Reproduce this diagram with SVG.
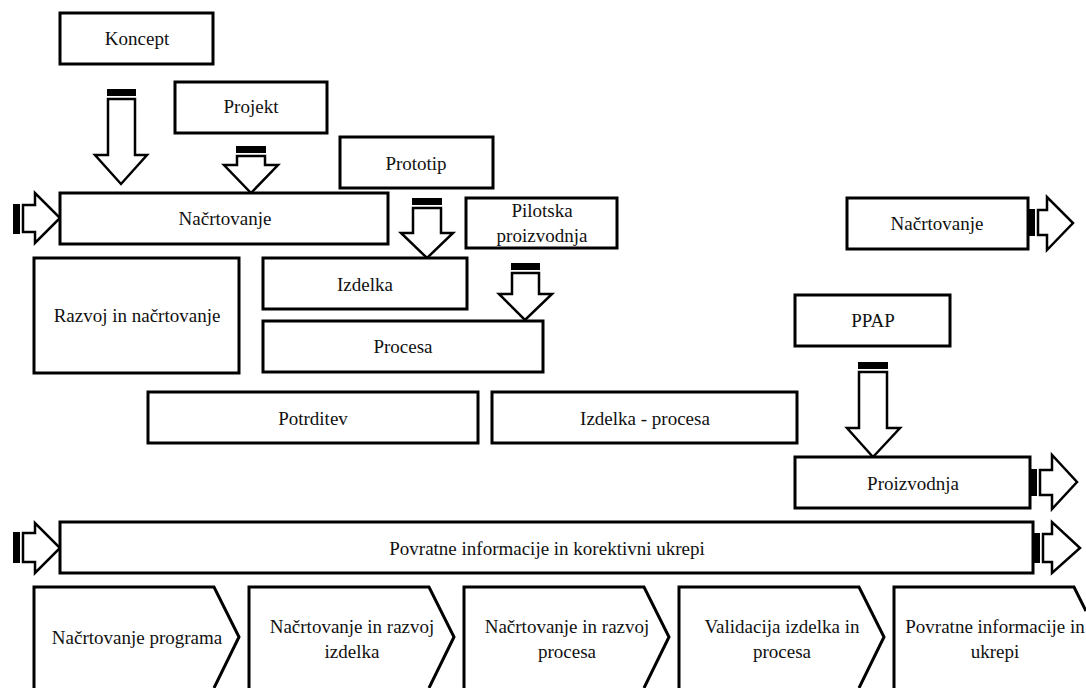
<svg xmlns="http://www.w3.org/2000/svg" width="1086" height="688" viewBox="0 0 1086 688">
  <style>
    .box { fill: #ffffff; stroke: #000000; stroke-width: 3; }
    .arrow { fill: #ffffff; stroke: #000000; stroke-width: 2.5; stroke-linejoin: miter; }
    .tail { fill: #000000; }
    .lbl { font-size: 19px; fill: #111111; text-anchor: middle; }
  </style>

  <rect x="0" y="0" width="1086" height="688" fill="#ffffff"/>

  <!-- block arrows -->
  <g id="connectors">
    <!-- Koncept down -->
    <rect class="tail" x="107" y="89" width="29" height="7"/>
    <polygon class="arrow" points="108,99 135,99 135,155 147,155 121,184 95,155 108,155"/>
    <!-- Projekt down -->
    <rect class="tail" x="236" y="146" width="30" height="7"/>
    <polygon class="arrow" points="237,156 265,156 265,165 278,165 251,193 224,165 237,165"/>
    <!-- Prototip down -->
    <rect class="tail" x="412" y="198" width="30" height="7"/>
    <polygon class="arrow" points="413,208 441,208 441,233 453,233 427,258 401,233 413,233"/>
    <!-- Pilotska proizvodnja down -->
    <rect class="tail" x="511" y="263" width="29" height="7"/>
    <polygon class="arrow" points="512,273 539,273 539,294 552,294 525,320 499,294 512,294"/>
    <!-- PPAP down -->
    <rect class="tail" x="858" y="362" width="30" height="7"/>
    <polygon class="arrow" points="859,372 887,372 887,428 900,428 873,457 847,428 859,428"/>

    <!-- into the planning bar -->
    <rect class="tail" x="13" y="204" width="7" height="30"/>
    <polygon class="arrow" points="23,205 35,205 35,193 60,218 35,243 35,232 23,232"/>
    <!-- out of the right planning box -->
    <rect class="tail" x="1028" y="209" width="7" height="27"/>
    <polygon class="arrow" points="1038,210 1047,210 1047,197 1073,223 1047,250 1047,235 1038,235"/>
    <!-- out of Proizvodnja -->
    <rect class="tail" x="1030" y="469" width="7" height="27"/>
    <polygon class="arrow" points="1040,470 1052,470 1052,455 1077,482 1052,509 1052,495 1040,495"/>
    <!-- into feedback bar -->
    <rect class="tail" x="13" y="532" width="7" height="31"/>
    <polygon class="arrow" points="23,533 35,533 35,523 60,548 35,573 35,562 23,562"/>
    <!-- out of feedback bar -->
    <rect class="tail" x="1033" y="533" width="7" height="30"/>
    <polygon class="arrow" points="1043,534 1052,534 1052,522 1080,548 1052,573 1052,562 1043,562"/>
  </g>

  <g id="koncept">
    <rect class="box" x="60" y="13" width="153" height="51"/>
    <text class="lbl" font-family="Liberation Serif" x="137" y="45">Koncept</text>
  </g>
  <g id="projekt">
    <rect class="box" x="175" y="82" width="152" height="51"/>
    <text class="lbl" font-family="Liberation Serif" x="251" y="113">Projekt</text>
  </g>
  <g id="nacrtovanje">
    <rect class="box" x="60" y="193" width="328" height="51"/>
    <text class="lbl" font-family="Liberation Serif" x="225" y="225">Na&#269;rtovanje</text>
  </g>
  <g id="prototip">
    <rect class="box" x="340" y="137" width="153" height="51"/>
    <text class="lbl" font-family="Liberation Serif" x="416" y="170">Prototip</text>
  </g>
  <g id="pilotska">
    <rect class="box" x="466" y="198" width="151" height="50"/>
    <text class="lbl" font-family="Liberation Serif" x="542" y="217">Pilotska</text>
    <text class="lbl" font-family="Liberation Serif" x="542" y="242">proizvodnja</text>
  </g>
  <g id="razvoj">
    <rect class="box" x="34" y="258" width="205" height="115"/>
    <text class="lbl" font-family="Liberation Serif" x="137" y="322">Razvoj in na&#269;rtovanje</text>
  </g>
  <g id="izdelka">
    <rect class="box" x="263" y="258" width="204" height="51"/>
    <text class="lbl" font-family="Liberation Serif" x="365" y="291">Izdelka</text>
  </g>
  <g id="procesa">
    <rect class="box" x="263" y="321" width="280" height="51"/>
    <text class="lbl" font-family="Liberation Serif" x="403" y="353">Procesa</text>
  </g>
  <g id="potrditev">
    <rect class="box" x="148" y="392" width="330" height="51"/>
    <text class="lbl" font-family="Liberation Serif" x="313" y="425">Potrditev</text>
  </g>
  <g id="izdelka-procesa">
    <rect class="box" x="492" y="392" width="305" height="51"/>
    <text class="lbl" font-family="Liberation Serif" x="645" y="425">Izdelka - procesa</text>
  </g>
  <g id="nacrtovanje-2">
    <rect class="box" x="847" y="198" width="181" height="51"/>
    <text class="lbl" font-family="Liberation Serif" x="937" y="230">Na&#269;rtovanje</text>
  </g>
  <g id="ppap">
    <rect class="box" x="795" y="295" width="155" height="51"/>
    <text class="lbl" font-family="Liberation Serif" x="873" y="327">PPAP</text>
  </g>
  <g id="proizvodnja">
    <rect class="box" x="795" y="457" width="235" height="51"/>
    <text class="lbl" font-family="Liberation Serif" x="913" y="490">Proizvodnja</text>
  </g>
  <g id="povratne">
    <rect class="box" x="60" y="522" width="973" height="51"/>
    <text class="lbl" font-family="Liberation Serif" x="547" y="555">Povratne informacije in korektivni ukrepi</text>
  </g>

  <!-- phase chevrons along the bottom, open at the lower edge -->
  <g id="faza-1">
    <path class="box" d="M34,688 L34,587 L214,587 L239,637 L214,688"/>
    <text class="lbl" font-family="Liberation Serif" x="137" y="644">Na&#269;rtovanje programa</text>
  </g>
  <g id="faza-2">
    <path class="box" d="M249,688 L249,587 L429,587 L454,637 L429,688"/>
    <text class="lbl" font-family="Liberation Serif" x="352" y="633">Na&#269;rtovanje in razvoj</text>
    <text class="lbl" font-family="Liberation Serif" x="352" y="658">izdelka</text>
  </g>
  <g id="faza-3">
    <path class="box" d="M464,688 L464,587 L644,587 L669,637 L644,688"/>
    <text class="lbl" font-family="Liberation Serif" x="567" y="633">Na&#269;rtovanje in razvoj</text>
    <text class="lbl" font-family="Liberation Serif" x="567" y="658">procesa</text>
  </g>
  <g id="faza-4">
    <path class="box" d="M679,688 L679,587 L859,587 L884,637 L859,688"/>
    <text class="lbl" font-family="Liberation Serif" x="782" y="633">Validacija izdelka in</text>
    <text class="lbl" font-family="Liberation Serif" x="782" y="658">procesa</text>
  </g>
  <g id="faza-5">
    <path class="box" d="M894,688 L894,587 L1074,587 L1086,611"/>
    <text class="lbl" font-family="Liberation Serif" x="995" y="633">Povratne informacije in</text>
    <text class="lbl" font-family="Liberation Serif" x="995" y="658">ukrepi</text>
  </g>
</svg>
